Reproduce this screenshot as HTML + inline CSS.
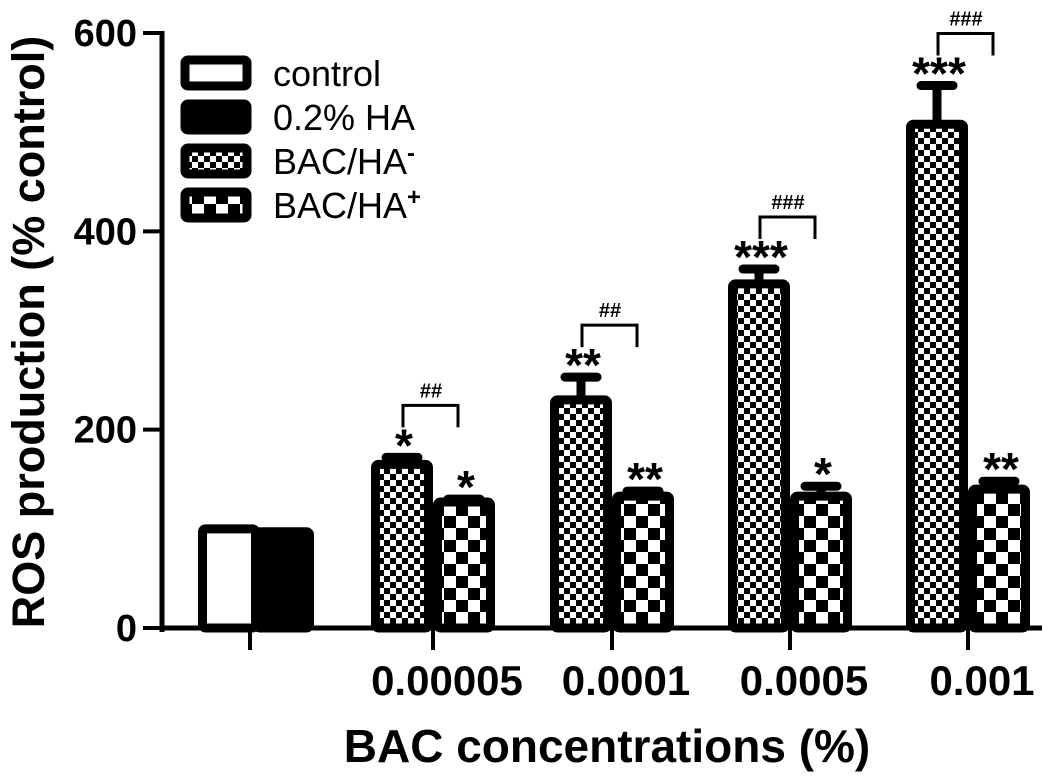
<!DOCTYPE html>
<html><head><meta charset="utf-8"><style>
body{margin:0;background:#fff}
svg text{font-family:"Liberation Sans",Arial,sans-serif}
</style></head><body>
<svg id="c" width="1053" height="773" viewBox="0 0 1053 773" xmlns="http://www.w3.org/2000/svg">
<defs>
<pattern id="pSmall" patternUnits="userSpaceOnUse" width="12" height="12"><rect width="12" height="12" fill="#fff"/><rect width="6" height="6" fill="#000"/><rect x="6" y="6" width="6" height="6" fill="#000"/></pattern>
<pattern id="pBig" patternUnits="userSpaceOnUse" width="24" height="24"><rect width="24" height="24" fill="#fff"/><rect width="12" height="12" fill="#000"/><rect x="12" y="12" width="12" height="12" fill="#000"/></pattern>
</defs>
<g id="plot"></g>
</svg>
<script>
const groups = ["", "0.00005", "0.0001", "0.0005", "0.001"];
const controlVal = [100];
const haVal = [97];
const bacMinus = [165, 230, 347, 508];
const bacMinusErr = [7, 23, 15, 39];
const bacPlus = [127, 133, 133, 140];
const bacPlusErr = [3, 5, 10, 8];
const starsMinus = ["*", "**", "***", "***"];
const starsPlus = ["*", "**", "*", "**"];
const hashes = ["##", "##", "###", "###"];
const yTicks = [0, 200, 400, 600];

const NS = "http://www.w3.org/2000/svg";
const g = document.getElementById("plot");
const y0 = 628, yScale = 595/600;
const Y = v => y0 - v*yScale;
const axX = 162;
const centers = [250, 433, 612, 790, 968];
const bw = 62;
function mk(tag, attrs, parent){const e=document.createElementNS(NS,tag);for(const k in attrs)e.setAttribute(k,attrs[k]);(parent||g).appendChild(e);return e;}

let a = mk("line",{x1:axX,y1:31,x2:axX,y2:632,stroke:"#000","stroke-width":5});


a = mk("line",{x1:axX-2,y1:628,x2:1042,y2:628,stroke:"#000","stroke-width":5});


yTicks.forEach(v=>{
  const t=mk("line",{x1:axX-19,y1:Y(v),x2:axX,y2:Y(v),stroke:"#000","stroke-width":4});
  
  
  const l=mk("text",{x:137,y:Y(v)+13,"text-anchor":"end","font-size":38,"font-weight":"bold"});
  l.textContent=v;
  
  
});
centers.forEach((c,i)=>{
  const t=mk("line",{x1:c,y1:628,x2:c,y2:650,stroke:"#000","stroke-width":4});
  
  
  const l=mk("text",{x:c+14,y:695,"text-anchor":"middle","font-size":42,"font-weight":"bold"});
  l.textContent=groups[i];
  
  
});

function bar(x,v,fill,name){
  const sw=9;
  const r=mk("rect",{x:x+sw/2,y:Y(v),width:bw-sw,height:y0-Y(v),fill:fill,stroke:"#000","stroke-width":sw,rx:3});
  
  
}
function err(cx,v,e){
  if(e<=0)return;
  const l=mk("line",{x1:cx,y1:Y(v),x2:cx,y2:Y(v+e),stroke:"#000","stroke-width":9});
  
  
  const cap=mk("line",{x1:cx-16,y1:Y(v+e),x2:cx+16,y2:Y(v+e),stroke:"#000","stroke-width":9,"stroke-linecap":"round"});
  
  
}
function txt(x,y,s,size,name){
  const t=mk("text",{x:x,y:y,"text-anchor":"middle","font-size":size,"font-weight":"bold"});
  t.textContent=s;
  
  
}
bar(centers[0]-bw+10,controlVal[0],"#fff","bar-control");
bar(centers[0]+2,haVal[0],"#000","bar-ha");
for(let i=0;i<4;i++){
  const c=centers[i+1];
  bar(c-bw,bacMinus[i],"url(#pSmall)","bar-bac-ha-minus");
  bar(c,bacPlus[i],"url(#pBig)","bar-bac-ha-plus");
  err(c-bw/2,bacMinus[i],bacMinusErr[i]);
  err(c+bw/2,bacPlus[i],bacPlusErr[i]);
  const topM=Y(bacMinus[i]+bacMinusErr[i]);
  const topP=Y(bacPlus[i]+bacPlusErr[i]);
  txt(c-bw/2+2,topM+4,starsMinus[i],46,'significance-stars');
  txt(c+bw/2+2,topP+4,starsPlus[i],46,'significance-stars');
  const by=topM-52;
  const br=mk("polyline",{points:`${c-30},${by+22} ${c-30},${by} ${c+25},${by} ${c+25},${by+22}`,fill:"none",stroke:"#000","stroke-width":3});
  
  
  txt(c-2,by-8,hashes[i],20,'hash-label');
}
const leg=[["control","#fff"],["0.2% HA","#000"],["BAC/HA","url(#pSmall)","-"],["BAC/HA","url(#pBig)","+"]];
leg.forEach((e,i)=>{
  const yy=60+i*44;
  const r=mk("rect",{x:185,y:yy,width:62,height:26,fill:e[1],stroke:"#000","stroke-width":9,rx:3});
  
  
  const t=mk("text",{x:273,y:yy+26,"font-size":36});
  t.textContent=e[0];
  if(e[2]){const s=mk("tspan",{"baseline-shift":"super","font-size":24,"font-weight":"bold"},t);s.textContent=e[2];}
  
  
});
let tt=mk("text",{x:607,y:762,"text-anchor":"middle","font-size":46,"font-weight":"bold"});
tt.textContent="BAC concentrations (%)";


tt=mk("text",{x:0,y:0,"text-anchor":"middle","font-size":45,"font-weight":"bold",transform:"translate(44,332) rotate(-90)"});
tt.textContent="ROS production (% control)";


</script>
</body></html>
